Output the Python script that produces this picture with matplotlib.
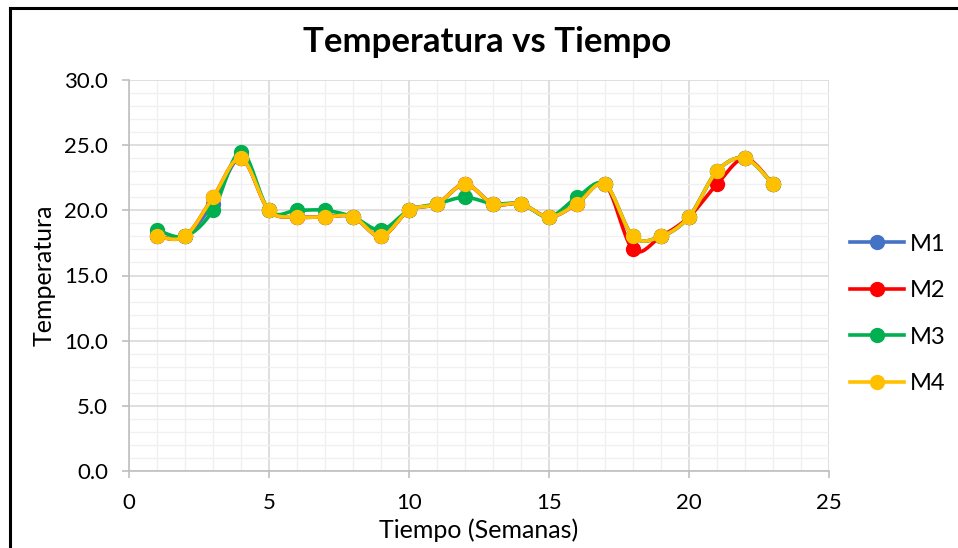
import matplotlib.pyplot as plt
from matplotlib.lines import Line2D
from matplotlib.ticker import MultipleLocator, FormatStrFormatter
import numpy as np

plt.rcParams['font.family'] = ['Lato', 'DejaVu Sans']

semanas = list(range(1, 24))
m1 = [18.0, 18.0, 20.5, 24.0, 20.0, 19.5, 19.5, 19.5, 18.0, 20.0, 20.5, 22.0,
      20.5, 20.5, 19.5, 20.5, 22.0, 18.0, 18.0, 19.5, 23.0, 24.0, 22.0]
m2 = [18.0, 18.0, 21.0, 24.0, 20.0, 19.5, 19.5, 19.5, 18.0, 20.0, 20.5, 22.0,
      20.5, 20.5, 19.5, 20.5, 22.0, 17.0, 18.0, 19.5, 22.0, 24.0, 22.0]
m3 = [18.5, 18.0, 20.0, 24.5, 20.0, 20.0, 20.0, 19.5, 18.5, 20.0, 20.5, 21.0,
      20.5, 20.5, 19.5, 21.0, 22.0, 18.0, 18.0, 19.5, 23.0, 24.0, 22.0]
m4 = [18.0, 18.0, 21.0, 24.0, 20.0, 19.5, 19.5, 19.5, 18.0, 20.0, 20.5, 22.0,
      20.5, 20.5, 19.5, 20.5, 22.0, 18.0, 18.0, 19.5, 23.0, 24.0, 22.0]

series = [('M1', m1, '#4472C4'), ('M2', m2, '#FF0000'),
          ('M3', m3, '#00B050'), ('M4', m4, '#FFC000')]


def suavizar(x, y, n=20):
    # curva tipo Catmull-Rom entre puntos consecutivos
    x = np.asarray(x, float)
    y = np.asarray(y, float)
    px = np.concatenate([[x[0]], x, [x[-1]]])
    py = np.concatenate([[y[0]], y, [y[-1]]])
    xs, ys = [], []
    t = np.linspace(0, 1, n)
    for i in range(1, len(px) - 2):
        p0 = np.array([px[i], py[i]])
        p3 = np.array([px[i + 1], py[i + 1]])
        c1 = p0 + (np.array([px[i + 1], py[i + 1]]) - np.array([px[i - 1], py[i - 1]])) / 6
        c2 = p3 - (np.array([px[i + 2], py[i + 2]]) - np.array([px[i], py[i]])) / 6
        b = ((1 - t) ** 3)[:, None] * p0 + (3 * (1 - t) ** 2 * t)[:, None] * c1 \
            + (3 * (1 - t) * t ** 2)[:, None] * c2 + (t ** 3)[:, None] * p3
        xs.extend(b[:, 0])
        ys.extend(b[:, 1])
    return xs, ys


fig = plt.figure(figsize=(9.58, 5.48), dpi=100)
ax = fig.add_axes([129 / 958, 1 - 471 / 548, 700 / 958, 391 / 548])

handles = []
for nombre, vals, color in series:
    sx, sy = suavizar(semanas, vals)
    ax.plot(sx, sy, color=color, lw=2.6, solid_capstyle='round', zorder=3)
    ax.plot(semanas, vals, 'o', color=color, ms=10, zorder=3)
    handles.append(Line2D([], [], color=color, lw=2.6, marker='o', ms=10, label=nombre))

ax.set_xlim(0, 25)
ax.set_ylim(0, 30)
ax.xaxis.set_major_locator(MultipleLocator(5))
ax.xaxis.set_minor_locator(MultipleLocator(1))
ax.yaxis.set_major_locator(MultipleLocator(5))
ax.yaxis.set_minor_locator(MultipleLocator(1))
ax.yaxis.set_major_formatter(FormatStrFormatter('%.1f'))

ax.grid(which='major', color='#d9d9d9', lw=1.2, zorder=0)
ax.grid(which='minor', color='#f0f0f0', lw=1.0, zorder=0)
ax.set_axisbelow(True)
for lado in ['top', 'right']:
    ax.spines[lado].set_visible(False)
for lado in ['left', 'bottom']:
    ax.spines[lado].set_color('#bfbfbf')
    ax.spines[lado].set_linewidth(1.2)
ax.tick_params(which='major', length=5, width=1.2, color='#bfbfbf', labelsize=16)
ax.tick_params(axis='x', pad=11)
ax.tick_params(axis='y', pad=10)
ax.tick_params(which='minor', length=0)

ax.set_xlabel('Tiempo (Semanas)', fontsize=18, labelpad=4)
ax.set_ylabel('Temperatura', fontsize=18, labelpad=6)
fig.text(487 / 958, 1 - 42 / 548, 'Temperatura vs Tiempo', ha='center', va='center',
         fontsize=25, fontweight='bold')

fig.legend(handles=handles, loc='center left', bbox_to_anchor=(850 / 958, 1 - 314 / 548),
           frameon=False, fontsize=17, handlelength=2.3, labelspacing=1.08, handletextpad=0.25,
           borderaxespad=0, borderpad=0)

# marco del gráfico
fig.add_artist(Line2D([9.5 / 958, 9.5 / 958], [0, 1 - 7.5 / 548], color='black', lw=2.2,
                      transform=fig.transFigure))
fig.add_artist(Line2D([9.5 / 958, 1], [1 - 7.5 / 548, 1 - 7.5 / 548], color='black', lw=2.2,
                      transform=fig.transFigure))

fig.savefig('out.png', dpi=100)
